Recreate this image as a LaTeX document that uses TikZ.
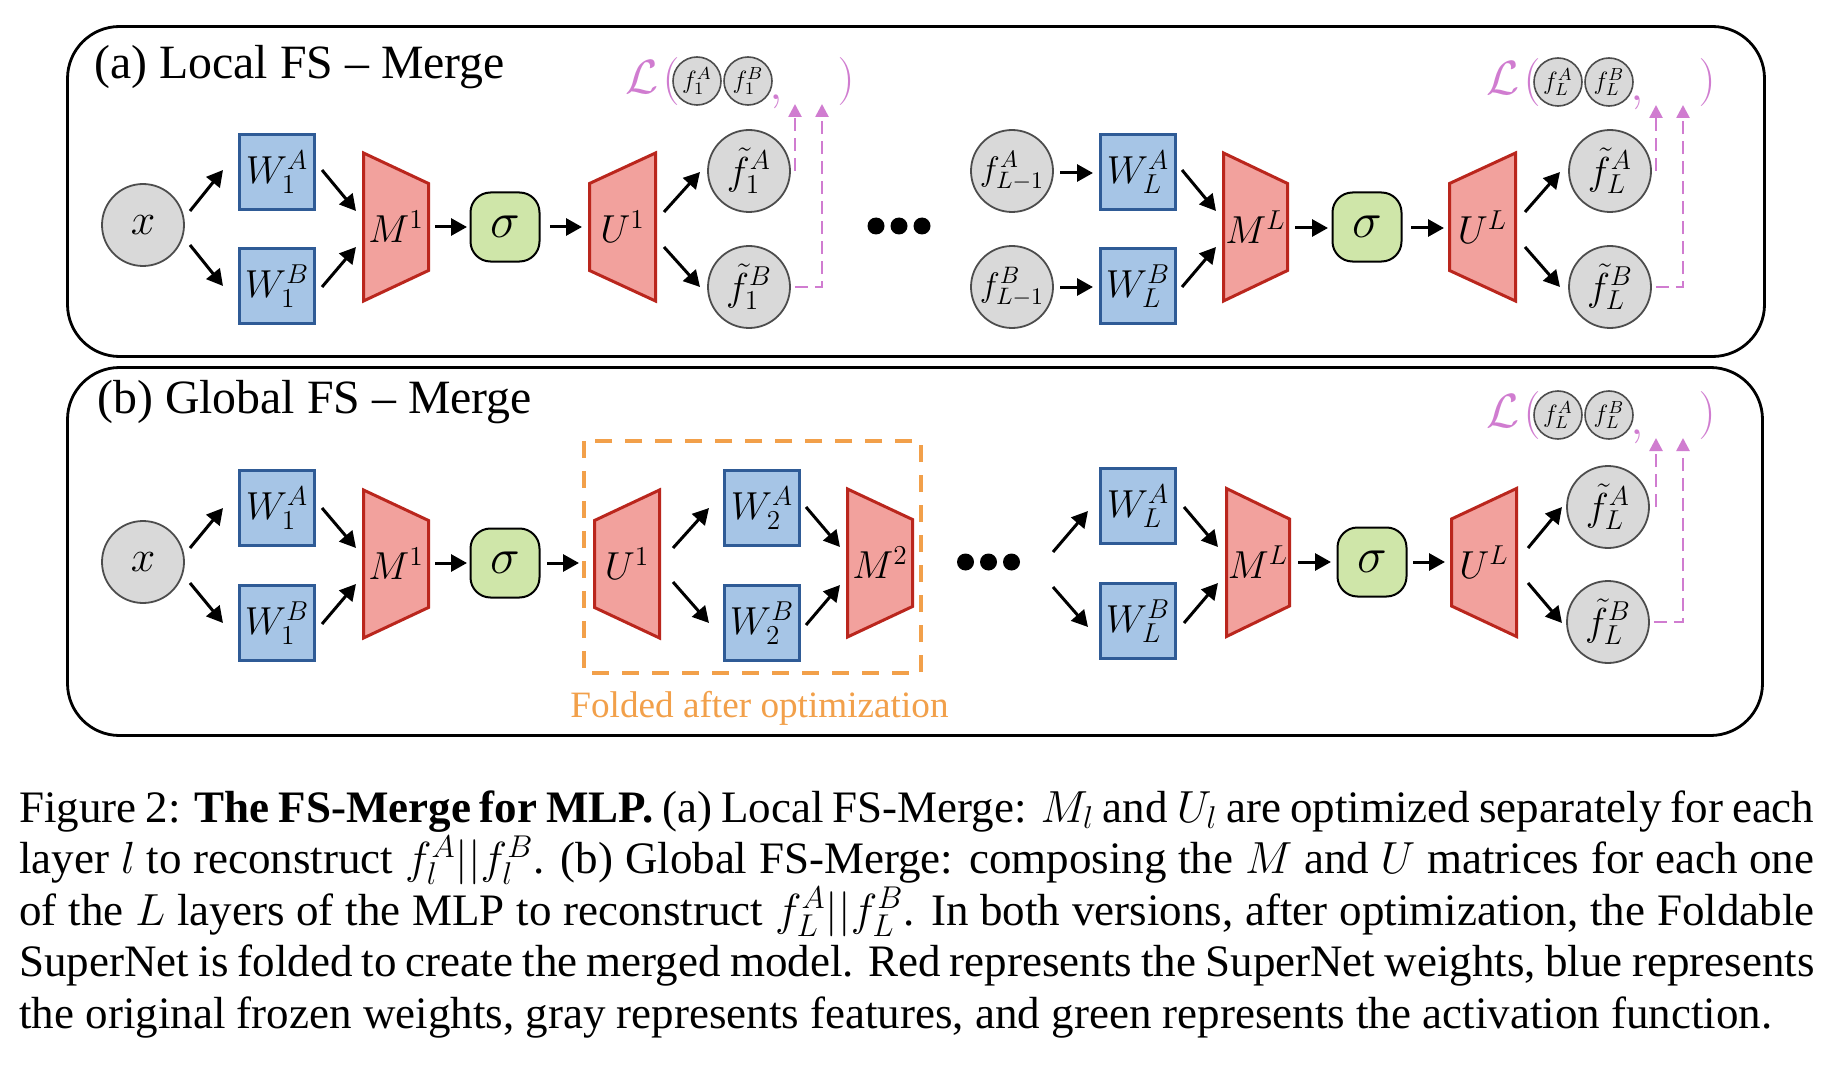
\documentclass[tikz,border=0pt]{standalone}
\usepackage{fix-cm}
\usepackage[no-math]{fontspec}
\setmainfont{Liberation Serif}
\usetikzlibrary{arrows.meta}
\definecolor{circfill}{HTML}{D9D9D9}
\definecolor{circdraw}{HTML}{4D4D4D}
\definecolor{boxfill}{HTML}{A6C5E6}
\definecolor{boxdraw}{HTML}{2F5B96}
\definecolor{trapfill}{HTML}{F2A19D}
\definecolor{trapdraw}{HTML}{BA261D}
\definecolor{sigfill}{HTML}{CFE6A9}
\definecolor{lpink}{HTML}{D07CD0}
\definecolor{forange}{HTML}{F2A04A}
\tikzset{
 arr/.style={line width=1.5pt, -{Triangle[length=8pt,width=8.5pt]}},
 feat/.style={circle, draw=circdraw, fill=circfill, line width=0.9pt, minimum size=41pt, inner sep=0pt, font=\fontsize{19.5}{22}\selectfont},
 wbox/.style={rectangle, draw=boxdraw, fill=boxfill, line width=1.7pt, minimum width=37.3pt, minimum height=37.6pt, inner sep=0pt, font=\fontsize{19.5}{22}\selectfont},
 sig/.style={rectangle, rounded corners=10pt, draw=black, fill=sigfill, line width=1pt, minimum width=34.5pt, minimum height=34.5pt, inner sep=0pt, font=\fontsize{25}{28}\selectfont},
 trapshape/.style={draw=trapdraw, fill=trapfill, line width=1.5pt, line join=miter},
 lbl/.style={inner sep=0pt, font=\fontsize{19.5}{22}\selectfont},
 smallc/.style={circle, draw=circdraw, fill=circfill, line width=0.8pt, minimum size=24pt, inner sep=0pt, font=\fontsize{12.5}{14}\selectfont},
 lossp/.style={text=lpink, inner sep=0pt, font=\fontsize{24}{28}\selectfont},
 darr/.style={draw=lpink, line width=1.3pt, dash pattern=on 6.5pt off 3.5pt, -{Triangle[length=6.5pt,width=6.5pt]}},
 ttl/.style={inner sep=0pt, anchor=base west, font=\fontsize{23.9}{28}\selectfont},
 capline/.style={inner sep=0pt, anchor=base west, font=\fontsize{22.5}{26}\selectfont},
 panel/.style={draw=black, line width=1.4pt, rounded corners=26pt},
 foldbox/.style={draw=forange, line width=2pt, dash pattern=on 8.5pt off 6.5pt},
}
\newcommand\conn[4]{\draw[arr] ([shift={(#2)}]#1.center) -- ([shift={(#4)}]#3.center);}
\newcommand\trapM[5]{%
 \draw[trapshape] (#2+1.5,#4-74) -- (#3-1.5,#4-43.5) -- (#3-1.5,#4+43.5) -- (#2+1.5,#4+74) -- cycle;
 \node[lbl] (#1) at ({(#2+#3)/2},#4) {#5};}
\newcommand\trapU[5]{%
 \draw[trapshape] (#2+1.5,#4-43.5) -- (#3-1.5,#4-74) -- (#3-1.5,#4+74) -- (#2+1.5,#4+43.5) -- cycle;
 \node[lbl] (#1) at ({(#2+#3)/2},#4) {#5};}
\newcommand\losslbl[4]{%
 \node[lossp] (#1L) at (#2-55,#3-3.5) {$\mathcal{L}$};
 \node[lossp] (#1p) at (#2-26,#3+0.5) {$($};
 \node[lossp, anchor=base] (#1c) at (#2+79,#3+19) {$,$};
 \node[lossp] (#1q) at (#2+149,#3+0.5) {$)$};
 \node[smallc] (#1a) at (#2,#3) {$f_{#4}^A$};
 \node[smallc] (#1b) at (#2+51,#3) {$f_{#4}^B$};
 \coordinate (#1TA) at (#2+98,#3+23);
 \coordinate (#1TB) at (#2+125,#3+23);}
\newcommand\threedots[1]{%
 \fill ([xshift=-11.5pt]#1) circle[radius=4.25pt];
 \fill (#1) circle[radius=4.25pt];
 \fill ([xshift=11.5pt]#1) circle[radius=4.25pt];}
\begin{document}
\begin{tikzpicture}[x=0.5pt,y=-0.5pt]
\useasboundingbox (0,0) rectangle (1844,1070);
\fill[white] (0,0) rectangle (1844,1070);
% panels
\draw[panel] (67.5,26.5) rectangle (1764.5,356.5);
\draw[panel] (67.5,367.5) rectangle (1762.5,735.5);
\node[ttl] (ta) at (94,79) {(a) Local FS – Merge};
\node[ttl] (tb) at (97,413) {(b) Global FS – Merge};
% ---------- panel (a)
\node[feat, font=\fontsize{22}{24}\selectfont] (xa) at (143,225) {$x$};
\node[wbox] (wa1A) at (277,172) {$W_1^A$};
\node[wbox] (wa1B) at (277,286) {$W_1^B$};
\trapM{Ma1}{362}{430}{227}{$M^1$}
\node[sig] (siga1) at (505,227) {$\sigma$};
\trapU{Ua1}{588}{657}{227}{$U^1$}
\node[feat] (fta1A) at (749,171) {$\tilde f_1^A$};
\node[feat] (fta1B) at (749,287) {$\tilde f_1^B$};
\coordinate (dotsa) at (899,226);
\threedots{dotsa}
\node[feat, font=\fontsize{17}{20}\selectfont] (fLa) at (1012,171) {$f_{L-1}^A$};
\node[feat, font=\fontsize{17}{20}\selectfont] (fLb) at (1012,287) {$f_{L-1}^B$};
\node[wbox] (waLA) at (1138,172) {$W_L^A$};
\node[wbox] (waLB) at (1138,286) {$W_L^B$};
\trapM{MaL}{1222}{1289}{227}{$M^L$}
\node[sig] (sigaL) at (1367,227) {$\sigma$};
\trapU{UaL}{1448}{1517}{227}{$U^L$}
\node[feat] (ftaLA) at (1610,171) {$\tilde f_L^A$};
\node[feat] (ftaLB) at (1610,287) {$\tilde f_L^B$};
\conn{xa}{47,-14}{wa1A}{-54,-2}
\conn{xa}{47,20}{wa1B}{-54,0}
\conn{wa1A}{45,-2}{Ma1}{-40,-16}
\conn{wa1B}{45,1}{Ma1}{-40,20}
\conn{Ma1}{39,0}{siga1}{-38,0}
\conn{siga1}{45,0}{Ua1}{-40.5,0}
\conn{Ua1}{41.5,-15}{fta1A}{-49,1}
\conn{Ua1}{41.5,20}{fta1B}{-49,0}
\conn{fLa}{48,2}{waLA}{-45,1}
\conn{fLb}{48,0}{waLB}{-45,1}
\conn{waLA}{44,-2}{MaL}{-39.5,-16}
\conn{waLB}{44,1}{MaL}{-39.5,20}
\conn{MaL}{39.5,1}{sigaL}{-39,1}
\conn{sigaL}{44,1}{UaL}{-38.5,1}
\conn{UaL}{42.5,-15}{ftaLA}{-50,1}
\conn{UaL}{42.5,20}{ftaLB}{-50,0}
\losslbl{la}{697}{81}{1}
\losslbl{lb}{1558}{82}{L}
\draw[darr] (laTA |- fta1A.center) -- (laTA);
\draw[darr] ([xshift=2pt]fta1B.east) -| (laTB);
\draw[darr] (lbTA |- ftaLA.center) -- (lbTA);
\draw[darr] ([xshift=2pt]ftaLB.east) -| (lbTB);
% ---------- panel (b)
\draw[foldbox] (584,441) rectangle (921,673);
\node[inner sep=0pt, anchor=base, text=forange, font=\fontsize{18.6}{22}\selectfont] (fold) at (759.5,717) {Folded after optimization};
\node[feat, font=\fontsize{22}{24}\selectfont] (xb) at (143,562) {$x$};
\node[wbox] (wb1A) at (277,508) {$W_1^A$};
\node[wbox] (wb1B) at (277,623) {$W_1^B$};
\trapM{Mb1}{362}{430}{564}{$M^1$}
\node[sig] (sigb1) at (505,563) {$\sigma$};
\trapU{Ub1}{593}{661}{564}{$U^1$}
\node[wbox] (wb2A) at (762,508) {$W_2^A$};
\node[wbox] (wb2B) at (762,623) {$W_2^B$};
\trapM{Mb2}{846}{914}{563}{$M^2$}
\coordinate (dotsb) at (988.5,562);
\threedots{dotsb}
\node[wbox] (wbLA) at (1138,506) {$W_L^A$};
\node[wbox] (wbLB) at (1138,621) {$W_L^B$};
\trapM{MbL}{1225}{1291}{562.5}{$M^L$}
\node[sig] (sigbL) at (1372,562) {$\sigma$};
\trapU{UbL}{1450}{1518}{562.5}{$U^L$}
\node[feat] (ftbLA) at (1608,507) {$\tilde f_L^A$};
\node[feat] (ftbLB) at (1608,622) {$\tilde f_L^B$};
\conn{xb}{47,-14}{wb1A}{-54,0}
\conn{xb}{47,21}{wb1B}{-54,0}
\conn{wb1A}{45,0}{Mb1}{-40,-16}
\conn{wb1B}{45,1}{Mb1}{-40,20}
\conn{Mb1}{39,-1}{sigb1}{-38,0}
\conn{sigb1}{42,0}{Ub1}{-48,-1}
\conn{Ub1}{46,-16}{wb2A}{-53,0}
\conn{Ub1}{46,18}{wb2B}{-53,0}
\conn{wb2A}{44,-1}{Mb2}{-40,-16}
\conn{wb2B}{44,2}{Mb2}{-40,22}
\conn{dotsb}{64.5,-10}{wbLA}{-50,5}
\conn{dotsb}{64.5,25}{wbLB}{-50,6}
\conn{wbLA}{46,1}{MbL}{-40,-15.5}
\conn{wbLB}{46,2}{MbL}{-40,20.5}
\conn{MbL}{40,-0.5}{sigbL}{-41,0}
\conn{sigbL}{41,0}{UbL}{-39,-0.5}
\conn{UbL}{44,-14.5}{ftbLA}{-46,0}
\conn{UbL}{44,20.5}{ftbLB}{-46,1}
\losslbl{lc}{1558}{415}{L}
\draw[darr] (lcTA |- ftbLA.center) -- (lcTA);
\draw[darr] ([xshift=2pt]ftbLB.east) -| (lcTB);
% ---------- caption
\node[capline] (cap1) at (19,822) {\makebox[897.5pt][s]{Figure 2: \textbf{The FS-Merge for MLP.} (a) Local FS-Merge: $M_l$ and $U_l$ are optimized separately for each}};
\node[capline] (cap2) at (19,873.5) {\makebox[897.5pt][s]{layer $l$ to reconstruct $f_l^A||f_l^B$. (b) Global FS-Merge: composing the $M$ and $U$ matrices for each one}};
\node[capline] (cap3) at (19,925) {\makebox[897.5pt][s]{of the $L$ layers of the MLP to reconstruct $f_L^A||f_L^B$. In both versions, after optimization, the Foldable}};
\node[capline] (cap4) at (19,976.5) {\makebox[897.5pt][s]{SuperNet is folded to create the merged model. Red represents the SuperNet weights, blue represents}};
\node[capline] (cap5) at (19,1028) {the original frozen weights, gray represents features, and green represents the activation function.};
\end{tikzpicture}
\end{document}
